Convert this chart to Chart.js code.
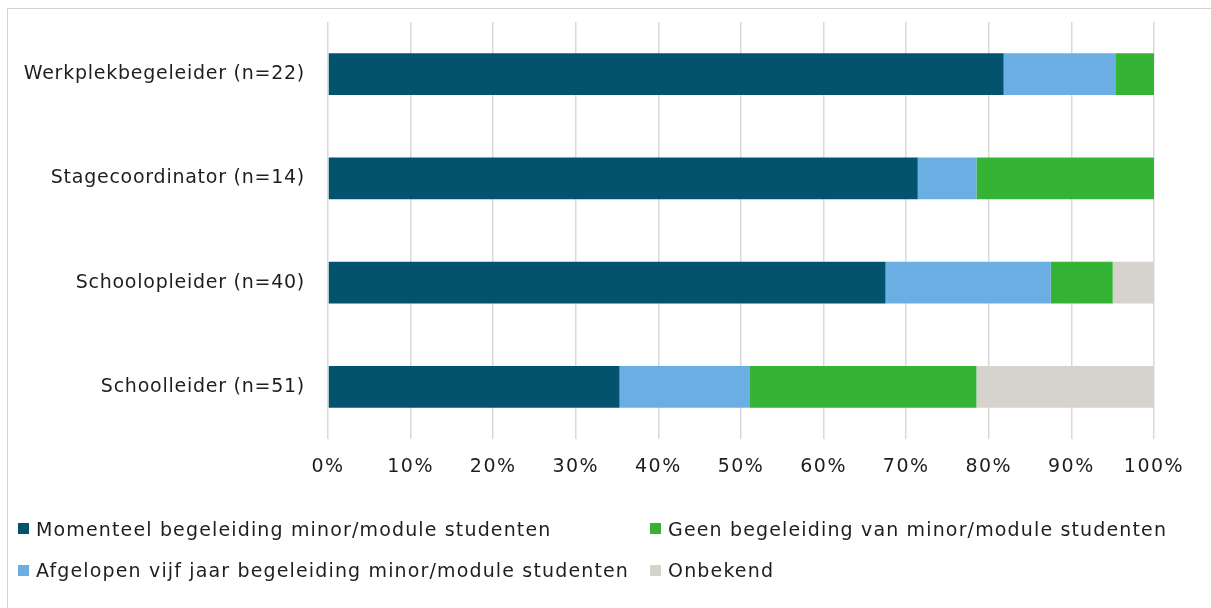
<!DOCTYPE html>
<html>
<head>
<meta charset="utf-8">
<script src="https://cdn.jsdelivr.net/npm/chart.js@4.4.1/dist/chart.umd.min.js"></script>
<style>
  html, body { margin: 0; padding: 0; background: #fff; }
  body { width: 1211px; height: 608px; position: relative; overflow: hidden; font-family: "DejaVu Sans", Verdana, sans-serif; }
  #frame { position: absolute; left: 7px; top: 8px; width: 1300px; height: 700px; border-top: 1px solid #d6d4cd; border-left: 1px solid #d6d4cd; box-sizing: border-box; }
  #wrap { position: absolute; left: 0; top: 0; width: 1211px; height: 608px; }
  #legend { position: absolute; left: 18px; top: 508px; display: grid; grid-template-columns: auto auto; column-gap: 21px; font-size: 19px; letter-spacing: 1.15px; color: #1e1e1e; }
  .item { display: flex; align-items: center; height: 41.5px; white-space: nowrap; }
  .sw { width: 11px; height: 11px; margin-right: 7px; flex: none; }
</style>
</head>
<body>
<div id="frame"></div>
<div id="wrap"><canvas id="c" width="1211" height="608"></canvas></div>
<div id="legend"></div>
<script>
const categories = ["Werkplekbegeleider (n=22)", "Stagecoordinator (n=14)", "Schoolopleider (n=40)", "Schoolleider (n=51)"];
const seriesNames = ["Momenteel begeleiding minor/module studenten", "Afgelopen vijf jaar begeleiding minor/module studenten", "Geen begeleiding van minor/module studenten", "Onbekend"];
const momenteel = [81.8, 71.4, 67.5, 35.3];
const afgelopen = [13.6, 7.1, 20.0, 15.7];
const geen = [4.6, 21.5, 7.5, 27.5];
const onbekend = [0, 0, 5.0, 21.5];
const xTicks = [0, 10, 20, 30, 40, 50, 60, 70, 80, 90, 100];
const colors = ["#03536f", "#6baee3", "#35b335", "#d5d3cb"];
const legendOrder = [0, 2, 1, 3];

const values = [momenteel, afgelopen, geen, onbekend];
const datasets = seriesNames.map((n, i) => ({
  label: n, data: values[i], backgroundColor: colors[i], borderWidth: 0,
  categoryPercentage: 1.0, barPercentage: 0.4
}));

const FONT = { family: '"DejaVu Sans", Verdana, sans-serif', size: 19 };

function spaced(scale, sp) {
  if (scale._spacedPatched) return;
  scale._spacedPatched = true;
  const orig = scale.drawLabels;
  scale.drawLabels = function (ca) {
    const ctx = this.ctx;
    ctx.save();
    ctx.letterSpacing = sp;
    orig.call(this, ca);
    ctx.restore();
  };
}

new Chart(document.getElementById('c'), {
  type: 'bar',
  data: { labels: categories, datasets },
  options: {
    indexAxis: 'y',
    responsive: false,
    animation: false,
    layout: { padding: { left: 0, top: 22, right: 57, bottom: 119 } },
    plugins: { legend: { display: false }, tooltip: { enabled: false } },
    scales: {
      x: {
        stacked: true, min: 0, max: 100,
        afterBuildTicks: (s) => { s.ticks = xTicks.map(v => ({ value: v })); },
        afterFit: (s) => { s.height = 50; s.paddingLeft = 0; s.paddingRight = 0; },
        afterUpdate: (s) => spaced(s, '1.5px'),
        grid: { color: '#d9d9d9', lineWidth: 1.5, drawTicks: false },
        border: { display: false },
        ticks: { font: FONT, color: '#1e1e1e', padding: 17, callback: (v) => v + '%', maxRotation: 0 }
      },
      y: {
        stacked: true,
        afterFit: (s) => { s.width = 328; s.paddingTop = 0; s.paddingBottom = 0; },
        afterUpdate: (s) => spaced(s, '0.75px'),
        grid: { display: false, drawTicks: false },
        border: { display: false },
        ticks: { font: FONT, color: '#1e1e1e', padding: 23 }
      }
    }
  }
});

const leg = document.getElementById('legend');
legendOrder.forEach(i => {
  const d = document.createElement('div');
  d.className = 'item';
  const sw = document.createElement('span');
  sw.className = 'sw';
  sw.style.background = colors[i];
  const t = document.createElement('span');
  t.textContent = seriesNames[i];
  d.appendChild(sw); d.appendChild(t);
  leg.appendChild(d);
});
</script>
</body>
</html>
